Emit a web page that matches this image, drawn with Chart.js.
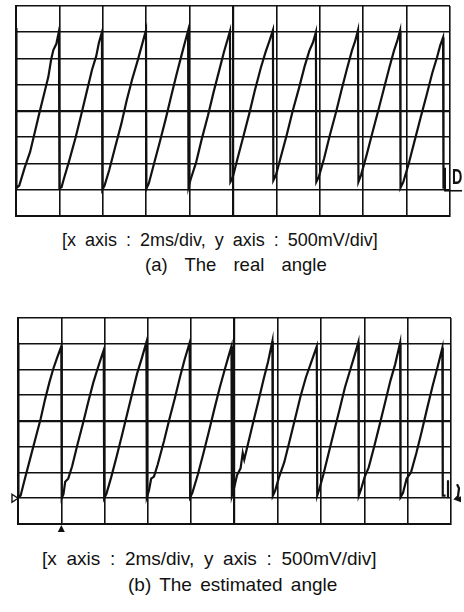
<!DOCTYPE html>
<html>
<head>
<meta charset="utf-8">
<script src="https://cdn.jsdelivr.net/npm/chart.js@4/dist/chart.umd.min.js"></script>
<style>
  body { margin: 0; background: #fff; width: 464px; height: 612px; position: relative; overflow: hidden; }
  canvas { position: absolute; left: 0; }
  .caption { position: absolute; color: #111; line-height: 1;
             font-family: "Liberation Sans", Arial, sans-serif; white-space: pre; }
</style>
</head>
<body>
<canvas id="realChart" width="464" height="222" style="top:0"></canvas>
<div class="caption" style="top:231px; left:62px; font-size:18px; word-spacing:4px">[x axis : 2ms/div, y axis : 500mV/div]</div>
<div class="caption" style="top:256px; left:145px; font-size:18.5px; word-spacing:12px">(a) The real angle</div>

<canvas id="estChart" width="464" height="240" style="top:300px"></canvas>
<div class="caption" style="top:549px; left:42px; font-size:19px; word-spacing:4.4px">[x axis : 2ms/div, y axis : 500mV/div]</div>
<div class="caption" style="top:575px; left:128px; font-size:19px; word-spacing:3px">(b) The estimated angle</div>

<script>
// ช่วงแกน (ms, V)
const xTicks = [0, 2, 4, 6, 8, 10, 12, 14, 16, 18, 20];
const yTicks = [-2, -1.5, -1, -0.5, 0, 0.5, 1, 1.5, 2];
const groundLevel = -1.5;

// มุมจริง
const realTime = [
  0.00, 0.02, 0.15, 0.40, 0.65, 0.88, 1.07, 1.28, 1.49, 1.62, 1.72, 1.86, 1.98,
  2.00, 2.10, 2.20, 2.45, 2.75, 3.00, 3.25, 3.50, 3.70, 3.82, 3.96,
  3.98, 4.08, 4.30, 4.55, 4.85, 5.10, 5.35, 5.60, 5.80, 5.99,
  6.01, 6.12, 6.35, 6.62, 6.90, 7.15, 7.40, 7.62, 7.78, 7.93,
  7.95, 8.05, 8.30, 8.55, 8.85, 9.10, 9.35, 9.58, 9.72, 9.86,
  9.88, 9.98, 10.20, 10.48, 10.75, 11.00, 11.28, 11.50, 11.70, 11.84,
  11.86, 11.98, 12.20, 12.48, 12.75, 13.05, 13.30, 13.52, 13.68, 13.82,
  13.84, 13.96, 14.20, 14.45, 14.75, 15.00, 15.25, 15.48, 15.62, 15.76,
  15.78, 15.90, 16.15, 16.42, 16.70, 16.95, 17.20, 17.42, 17.58, 17.70,
  17.72, 17.85, 18.10, 18.38, 18.65, 18.92, 19.18, 19.40, 19.55, 19.68,
  19.70
];
const realAngle = [
  1.58, -1.47, -1.42, -1.08, -0.78, -0.38, -0.05, 0.30, 0.65, 0.98, 1.16, 1.28, 1.52,
  -1.47, -1.45, -1.30, -0.95, -0.50, -0.08, 0.35, 0.78, 1.05, 1.30, 1.50,
  -1.50, -1.42, -1.12, -0.72, -0.25, 0.20, 0.60, 0.95, 1.25, 1.54,
  -1.48, -1.38, -1.02, -0.60, -0.15, 0.28, 0.70, 1.05, 1.30, 1.53,
  -1.45, -1.30, -0.98, -0.55, -0.08, 0.35, 0.75, 1.12, 1.32, 1.52,
  -1.35, -1.28, -0.92, -0.48, -0.05, 0.38, 0.82, 1.12, 1.36, 1.54,
  -1.32, -1.22, -0.88, -0.45, 0.00, 0.45, 0.85, 1.15, 1.30, 1.50,
  -1.35, -1.25, -0.90, -0.48, -0.02, 0.40, 0.80, 1.15, 1.32, 1.54,
  -1.35, -1.22, -0.85, -0.42, 0.02, 0.42, 0.82, 1.15, 1.35, 1.53,
  -1.46, -1.35, -1.00, -0.55, -0.12, 0.30, 0.72, 1.02, 1.25, 1.40,
  -1.48
];

// มุมที่ประมาณได้
const estTime = [
  0.00, 0.02, 0.12, 0.30, 0.55, 0.80, 1.05, 1.25, 1.45, 1.62, 1.80, 2.00,
  2.02, 2.10, 2.18, 2.32, 2.50, 2.75, 3.00, 3.25, 3.48, 3.68, 3.82, 3.96,
  3.98, 4.08, 4.30, 4.55, 4.80, 5.05, 5.30, 5.50, 5.72, 5.93,
  5.95, 6.05, 6.15, 6.28, 6.45, 6.75, 7.00, 7.25, 7.48, 7.70, 7.93,
  7.95, 8.05, 8.30, 8.55, 8.82, 9.08, 9.32, 9.55, 9.72, 9.86,
  9.88, 9.98, 10.12, 10.28, 10.38, 10.45, 10.62, 10.85, 11.10, 11.35, 11.55, 11.75,
  11.77, 11.88, 12.05, 12.30, 12.55, 12.80, 13.05, 13.30, 13.55, 13.80,
  13.82, 13.92, 14.10, 14.35, 14.60, 14.85, 15.10, 15.35, 15.55, 15.72,
  15.74, 15.85, 16.00, 16.20, 16.45, 16.70, 16.95, 17.20, 17.42, 17.65,
  17.67, 17.78, 17.95, 18.15, 18.40, 18.65, 18.90, 19.15, 19.38, 19.60,
  19.62, 19.75
];
const estAngle = [
  1.52, -1.48, -1.45, -1.15, -0.75, -0.35, 0.05, 0.42, 0.75, 1.00, 1.22, 1.45,
  -1.50, -1.42, -1.18, -1.12, -0.88, -0.45, -0.05, 0.38, 0.75, 1.02, 1.20, 1.375,
  -1.50, -1.42, -1.10, -0.70, -0.28, 0.15, 0.58, 0.92, 1.22, 1.53,
  -1.48, -1.35, -1.12, -1.08, -0.85, -0.38, 0.05, 0.45, 0.85, 1.20, 1.52,
  -1.48, -1.40, -1.05, -0.65, -0.20, 0.25, 0.65, 1.00, 1.25, 1.45,
  -1.45, -1.30, -1.05, -0.92, -0.62, -0.75, -0.45, -0.05, 0.38, 0.82, 1.15, 1.55,
  -1.45, -1.35, -1.10, -0.80, -0.38, 0.05, 0.48, 0.85, 1.15, 1.45,
  -1.45, -1.32, -1.05, -0.62, -0.20, 0.22, 0.65, 1.00, 1.28, 1.53,
  -1.45, -1.32, -1.10, -0.90, -0.50, -0.08, 0.35, 0.78, 1.10, 1.52,
  -1.48, -1.40, -1.12, -1.00, -0.62, -0.20, 0.25, 0.68, 1.05, 1.42,
  -1.45, -1.45
];

// รวมเวลากับค่าเป็นจุด {x, y}
function toPoints(times, values) {
  return times.map((t, i) => ({ x: t, y: values[i] }));
}

// แกนแบบจอออสซิลโลสโคป ไม่มีตัวเลข
function scopeScale(ticks, isX) {
  return {
    type: "linear",
    min: ticks[0],
    max: ticks[ticks.length - 1],
    afterBuildTicks: (axis) => { axis.ticks = ticks.map(v => ({ value: v })); },
    afterFit: (axis) => { if (isX) axis.height = 0; else axis.width = 0; },
    ticks: { display: false },
    grid: {
      color: "#111",
      lineWidth: (ctx) => (ctx.tick && ctx.tick.value === (isX ? 10 : 0)) ? 2.2 : 1.6,
      drawTicks: false
    },
    border: { display: true, color: "#111", width: 2 }
  };
}

// เครื่องหมายช่องสัญญาณบนจอ
const markerPlugin = {
  id: "scopeMarkers",
  afterDraw(chart, args, opts) {
    const ctx = chart.ctx;
    const xs = chart.scales.x, ys = chart.scales.y;
    const gy = ys.getPixelForValue(groundLevel);
    const right = chart.chartArea.right;
    ctx.save();
    ctx.fillStyle = "#111";
    ctx.strokeStyle = "#111";
    if (opts.kind === "real") {
      // ตัว D ขีดเส้นใต้ทางขวา
      ctx.lineWidth = 2;
      ctx.beginPath();
      ctx.moveTo(right - 5, gy - 22);
      ctx.lineTo(right - 5, gy);
      ctx.stroke();
      ctx.save();
      ctx.translate(right + 2, gy - 1);
      ctx.scale(0.65, 1);
      ctx.font = "bold 22px 'Liberation Sans', Arial";
      ctx.textBaseline = "bottom";
      ctx.fillText("D", 0, 0);
      ctx.restore();
      ctx.lineWidth = 1.6;
      ctx.beginPath();
      ctx.moveTo(right - 6, gy + 1);
      ctx.lineTo(right + 12, gy + 1);
      ctx.stroke();
    } else {
      // สามเหลี่ยมโปร่งทางซ้าย
      const left = chart.chartArea.left;
      ctx.lineWidth = 1.4;
      ctx.fillStyle = "#fff";
      ctx.beginPath();
      ctx.moveTo(left - 6, gy - 4);
      ctx.lineTo(left, gy);
      ctx.lineTo(left - 6, gy + 4);
      ctx.closePath();
      ctx.fill();
      ctx.stroke();
      // ลูกศรทริกเกอร์ใต้กราฟ
      const tx = xs.getPixelForValue(2);
      const bottom = chart.chartArea.bottom;
      ctx.fillStyle = "#111";
      ctx.beginPath();
      ctx.moveTo(tx, bottom + 1);
      ctx.lineTo(tx - 3.5, bottom + 8);
      ctx.lineTo(tx + 3.5, bottom + 8);
      ctx.closePath();
      ctx.fill();
      // เลข 1 ทางขวา
      ctx.lineWidth = 2.2;
      ctx.beginPath();
      ctx.moveTo(right - 3, gy - 18);
      ctx.lineTo(right - 3, gy);
      ctx.stroke();
      ctx.beginPath();
      ctx.moveTo(right + 6, gy - 14);
      ctx.lineTo(right + 8, gy - 10);
      ctx.lineTo(right + 7, gy - 2);
      ctx.lineTo(right + 4, gy + 1);
      ctx.stroke();
      ctx.beginPath();
      ctx.moveTo(right + 2, gy + 1);
      ctx.lineTo(right + 10, gy - 2);
      ctx.lineTo(right + 10, gy + 4);
      ctx.closePath();
      ctx.fill();
    }
    ctx.restore();
  }
};

// วาดกราฟหนึ่งจอ
function renderScope(id, times, values, pad, kind) {
  const el = document.getElementById(id);
  return new Chart(el, {
    type: "scatter",
    data: {
      datasets: [
        {
          data: toPoints(times, values),
          showLine: true,
          borderColor: "#111",
          borderWidth: 2.2,
          pointRadius: 0,
          tension: 0
        }
      ]
    },
    options: {
      responsive: false,
      animation: false,
      layout: { padding: pad },
      plugins: {
        legend: { display: false },
        tooltip: { enabled: false },
        scopeMarkers: { kind: kind }
      },
      scales: {
        x: scopeScale(xTicks, true),
        y: scopeScale(yTicks, false)
      }
    },
    plugins: [markerPlugin]
  });
}

renderScope("realChart", realTime, realAngle, { left: 16, top: 6, right: 14, bottom: 6 }, "real");
renderScope("estChart", estTime, estAngle, { left: 18, top: 18, right: 13, bottom: 16 }, "est");
</script>
</body>
</html>
